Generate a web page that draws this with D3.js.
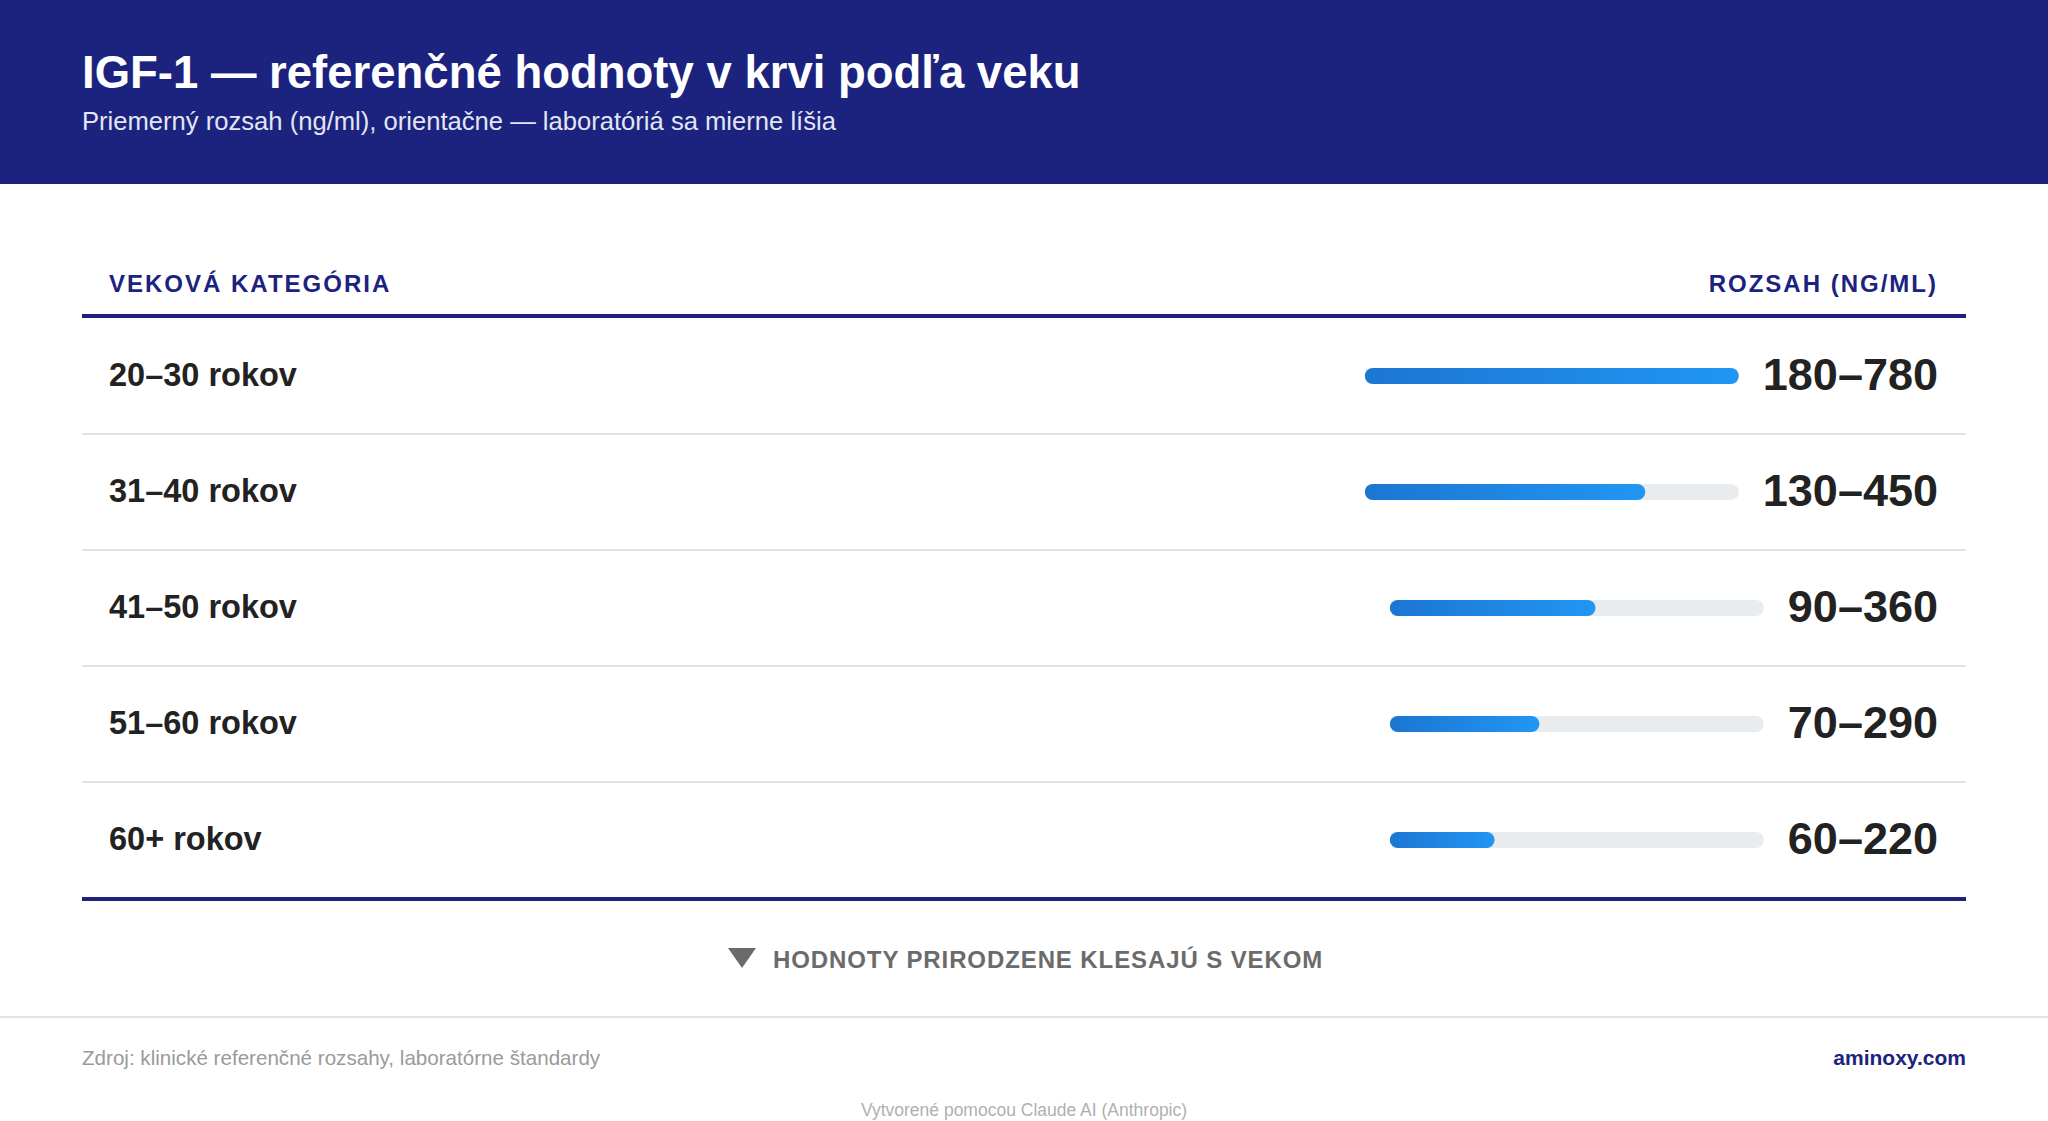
<!DOCTYPE html>
<html><head><meta charset="utf-8">
<script src="https://cdn.jsdelivr.net/npm/d3@7"></script>
<style>
html,body{margin:0;padding:0;background:#fff;overflow:hidden}
text{font-family:"Liberation Sans",Arial,sans-serif}
</style></head>
<body><div id="chart"></div>
<script>
// DATA -----------------------------------------------------
var categories = ["20–30 rokov","31–40 rokov","41–50 rokov","51–60 rokov","60+ rokov"];
var rangeLow = [180,130,90,70,60];
var rangeHigh = [780,450,360,290,220];
var barPct = [100,75,55,40,28];

// STRUCTURE ------------------------------------------------
var W = 2048, H = 1121, navy = "#1b237e";
var svg = d3.select("#chart").append("svg").attr("width", W).attr("height", H);
var defs = svg.append("defs");
var grad = defs.append("linearGradient").attr("id","barGrad");
grad.append("stop").attr("offset","0%").attr("stop-color","#1c76d2");
grad.append("stop").attr("offset","100%").attr("stop-color","#2196f3");

// header
svg.append("rect").attr("width", W).attr("height", 184).attr("fill", navy);
svg.append("text").attr("x",82).attr("y",88).attr("fill","#fff")
.style("font-size","45.5px").style("font-weight","bold")
.text("IGF-1 — referenčné hodnoty v krvi podľa veku");
svg.append("text").attr("x",82).attr("y",130).attr("fill","#e3e5f5")
.style("font-size","25.6px")
.text("Priemerný rozsah (ng/ml), orientačne — laboratóriá sa mierne líšia");

// table header
svg.append("text").attr("x",109).attr("y",292).attr("fill",navy)
.style("font-size","24px").style("font-weight","bold").style("letter-spacing","2px")
.text("VEKOVÁ KATEGÓRIA");
svg.append("text").attr("x",1938).attr("y",292).attr("fill",navy).attr("text-anchor","end")
.style("font-size","24px").style("font-weight","bold").style("letter-spacing","2px")
.text("ROZSAH (NG/ML)");
svg.append("rect").attr("x",82).attr("y",314).attr("width",1884).attr("height",4).attr("fill",navy);

// SCALES ---------------------------------------------------
var y = d3.scaleBand().domain(categories).range([318, 898]);
var w = d3.scaleLinear().domain([0,100]).range([0,374]);

// ROWS -----------------------------------------------------
var rows = svg.selectAll(".row").data(categories).enter().append("g")
.attr("class","row").attr("transform", function(d){ return "translate(0," + y(d) + ")"; });

rows.filter(function(d,i){ return i < categories.length - 1; }).append("rect")
.attr("x",82).attr("y", y.bandwidth() - 1).attr("width",1884).attr("height",2).attr("fill","#e2e2e2");

rows.append("text").attr("x",109).attr("y",68).attr("fill","#222")
.style("font-size","32.5px").style("font-weight","bold")
.text(function(d){ return d; });

rows.append("text").attr("class","val").attr("x",1938).attr("y",72).attr("text-anchor","end")
.attr("fill","#222").style("font-size","45px").style("font-weight","bold")
.text(function(d,i){ return rangeLow[i] + "–" + rangeHigh[i]; });

// bar end sits left of the value text
rows.each(function(d,i){
  var g = d3.select(this);
  var tw = g.select("text.val").node().getComputedTextLength();
  var x1 = 1938 - tw - 24, x0 = x1 - w(100);
  g.append("rect").attr("x",x0).attr("y",50).attr("width",w(100)).attr("height",16)
  .attr("rx",8).attr("fill","#e9ecef");
  g.append("rect").attr("x",x0).attr("y",50).attr("width",w(barPct[i])).attr("height",16)
  .attr("rx",8).attr("fill","url(#barGrad)");
});

svg.append("rect").attr("x",82).attr("y",897).attr("width",1884).attr("height",4).attr("fill",navy);

// NOTE & FOOTER ---------------------------------------------
svg.append("path").attr("d","M728,948 L756,948 L742,968 Z").attr("fill","#6b6b6b");
svg.append("text").attr("x",773).attr("y",968).attr("fill","#6b6b6b")
.style("font-size","24px").style("font-weight","bold").style("letter-spacing","0.9px")
.text("HODNOTY PRIRODZENE KLESAJÚ S VEKOM");
svg.append("rect").attr("x",0).attr("y",1016).attr("width",W).attr("height",2).attr("fill","#e3e3e3");
svg.append("text").attr("x",82).attr("y",1065).attr("fill","#9a9a9a").style("font-size","20.6px")
.text("Zdroj: klinické referenčné rozsahy, laboratórne štandardy");
svg.append("text").attr("x",1966).attr("y",1065).attr("fill",navy).attr("text-anchor","end")
.style("font-size","21px").style("font-weight","bold").text("aminoxy.com");
svg.append("text").attr("x",1024).attr("y",1116).attr("fill","#b0b0b0").attr("text-anchor","middle")
.style("font-size","17.5px").text("Vytvorené pomocou Claude AI (Anthropic)");
</script></body></html>
